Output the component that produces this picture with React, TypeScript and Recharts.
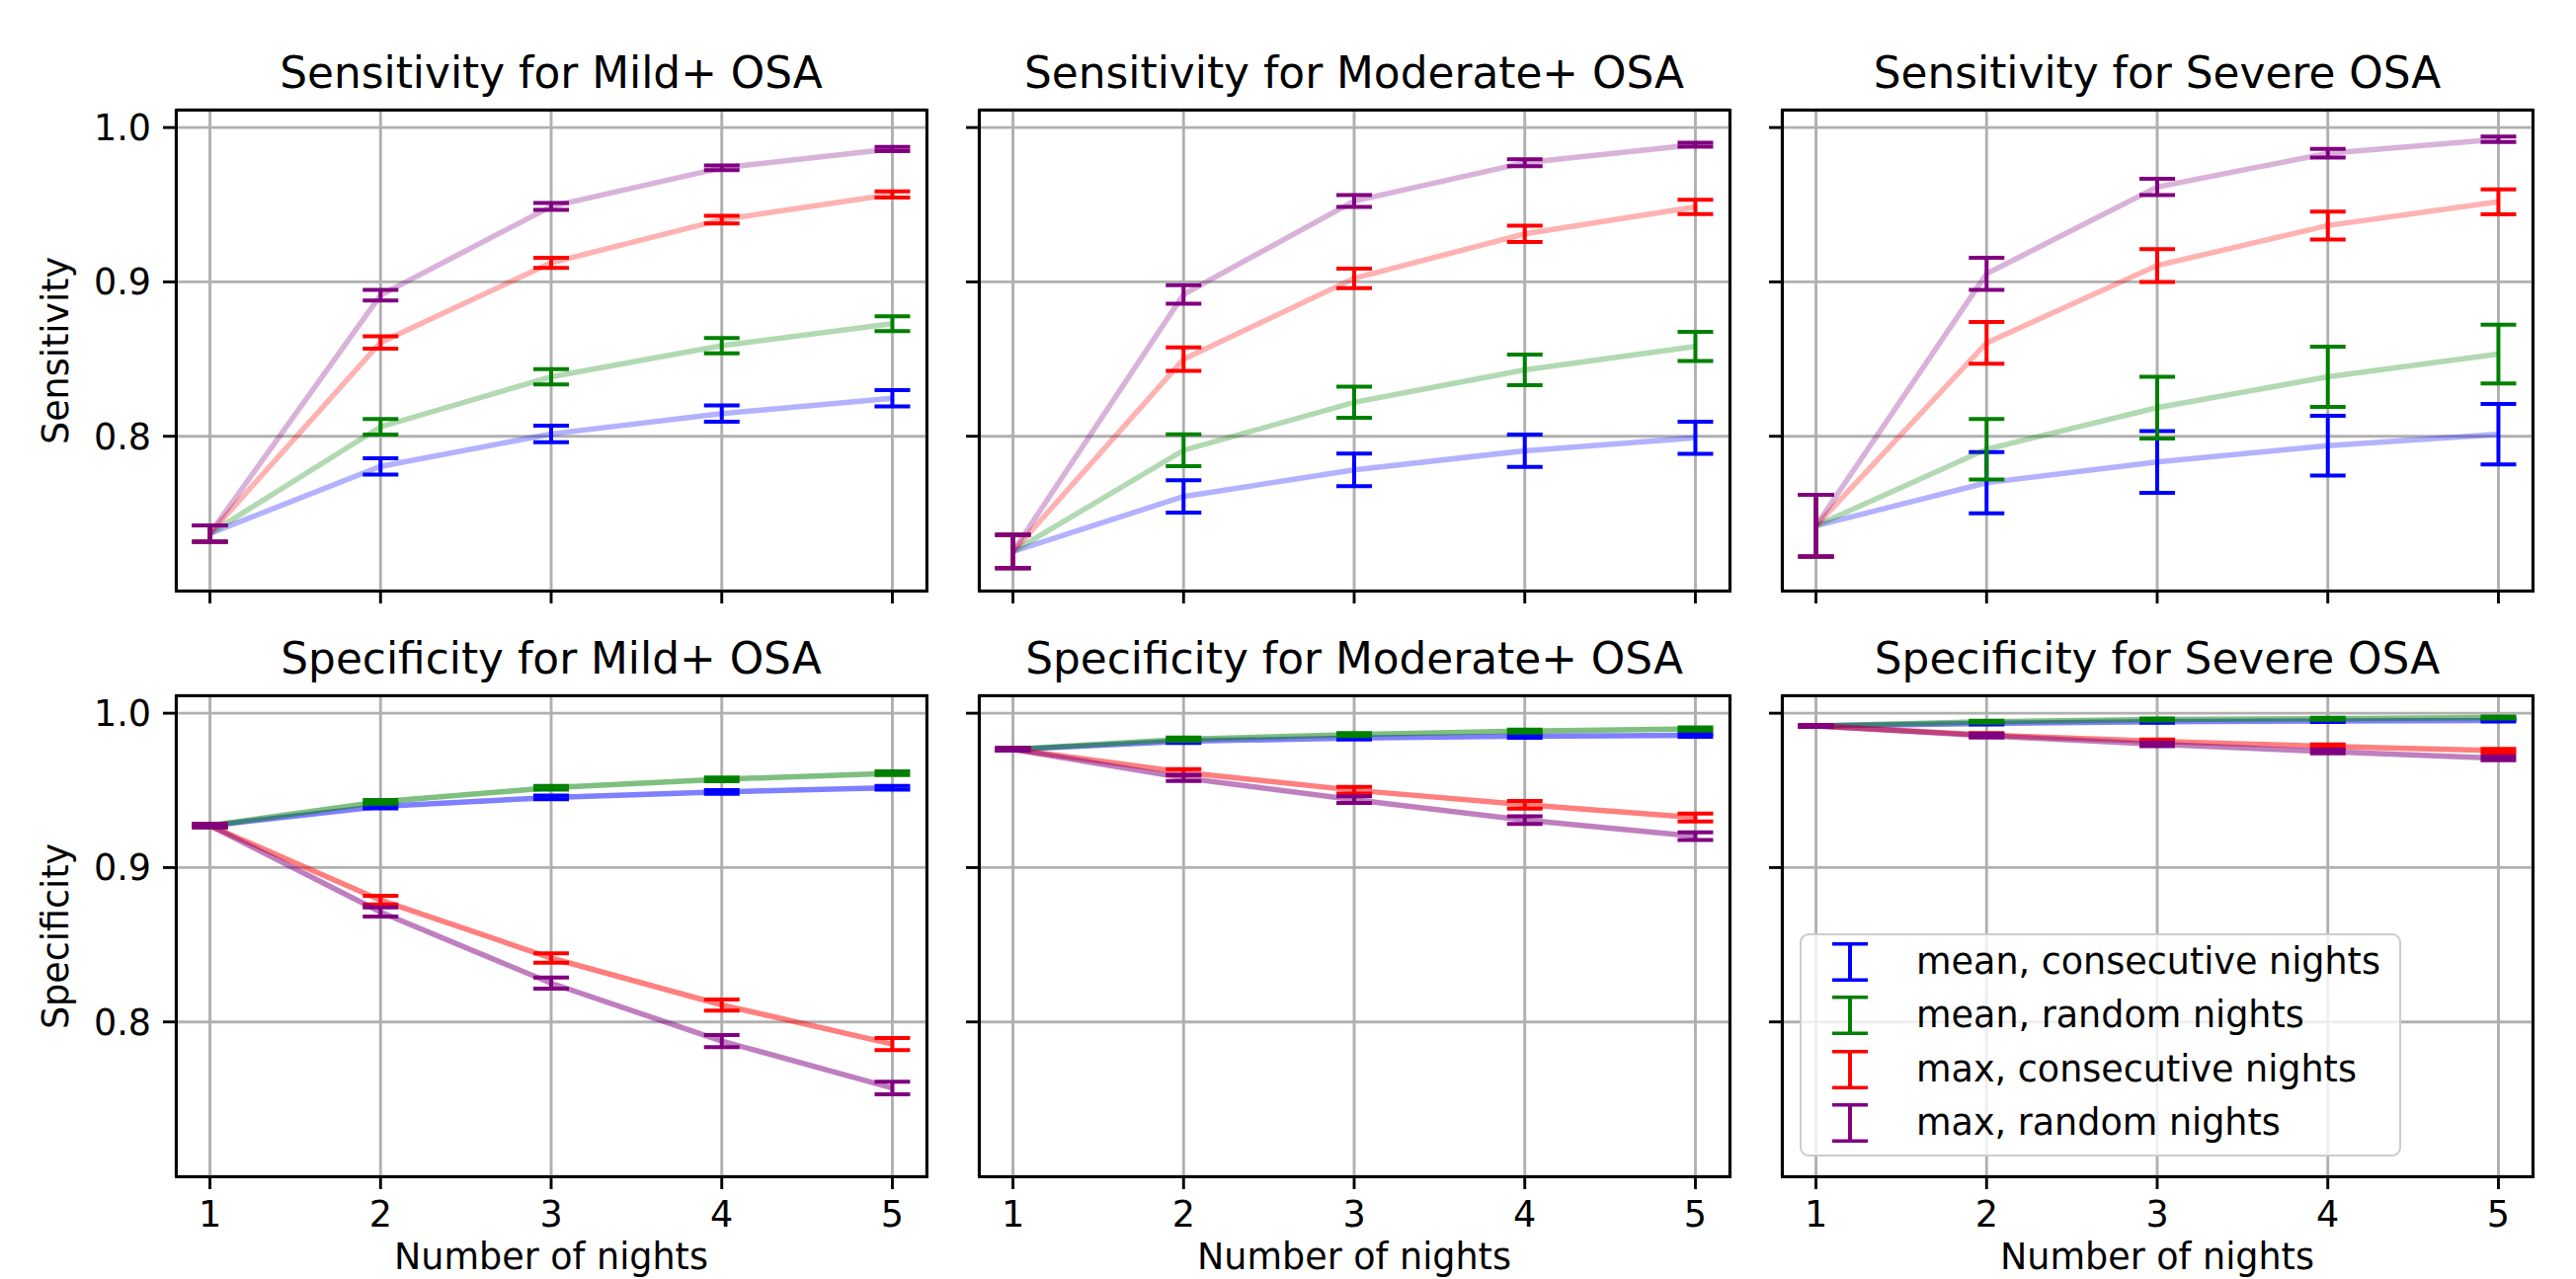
import React from "react";
import { LineChart, Line, ErrorBar, XAxis, YAxis, CartesianGrid } from "recharts";

const nights = [1, 2, 3, 4, 5];
const yTicks = [0.8, 0.9, 1.0];
const seriesNames = [
  "mean, consecutive nights",
  "mean, random nights",
  "max, consecutive nights",
  "max, random nights",
];
const seriesColors = ["#0000ff", "#008000", "#ff0000", "#800080"];

// Sensitivity, Mild+ OSA
const sensMildMeanCons = [0.737, 0.7805, 0.8015, 0.8147, 0.8246];
const sensMildMeanConsErr = [0.0053, 0.0053, 0.0053, 0.0053, 0.0053];
const sensMildMeanRand = [0.737, 0.8061, 0.8385, 0.8587, 0.8729];
const sensMildMeanRandErr = [0.0053, 0.005, 0.005, 0.005, 0.0048];
const sensMildMaxCons = [0.737, 0.8608, 0.9124, 0.9403, 0.9567];
const sensMildMaxConsErr = [0.0053, 0.004, 0.0033, 0.0025, 0.002];
const sensMildMaxRand = [0.737, 0.8914, 0.9489, 0.9739, 0.9861];
const sensMildMaxRandErr = [0.0053, 0.0035, 0.0023, 0.0015, 0.0013];

// Sensitivity, Moderate+ OSA
const sensModMeanCons = [0.7253, 0.761, 0.7782, 0.7906, 0.799];
const sensModMeanConsErr = [0.0108, 0.0105, 0.0105, 0.0105, 0.0104];
const sensModMeanRand = [0.7253, 0.7909, 0.822, 0.843, 0.8582];
const sensModMeanRandErr = [0.0108, 0.0103, 0.0101, 0.0099, 0.0094];
const sensModMaxCons = [0.7253, 0.8499, 0.9023, 0.9311, 0.9486];
const sensModMaxConsErr = [0.0108, 0.0076, 0.0063, 0.0053, 0.0046];
const sensModMaxRand = [0.7253, 0.8919, 0.9524, 0.9772, 0.9889];
const sensModMaxRandErr = [0.0108, 0.006, 0.0038, 0.0023, 0.0013];

// Sensitivity, Severe OSA
const sensSevMeanCons = [0.742, 0.7699, 0.7833, 0.7939, 0.8013];
const sensSevMeanConsErr = [0.02, 0.0199, 0.02, 0.0194, 0.0196];
const sensSevMeanRand = [0.742, 0.7916, 0.8185, 0.8385, 0.8532];
const sensSevMeanRandErr = [0.02, 0.0196, 0.02, 0.0195, 0.019];
const sensSevMaxCons = [0.742, 0.8605, 0.9106, 0.9365, 0.9519];
const sensSevMaxConsErr = [0.02, 0.0135, 0.0106, 0.0091, 0.0081];
const sensSevMaxRand = [0.742, 0.9053, 0.9615, 0.9833, 0.9924];
const sensSevMaxRandErr = [0.02, 0.0104, 0.0053, 0.0028, 0.0018];

// Specificity, Mild+ OSA
const specMildMeanCons = [0.9272, 0.9396, 0.9454, 0.949, 0.9517];
const specMildMeanConsErr = [0.001, 0.0012, 0.0012, 0.0012, 0.0012];
const specMildMeanRand = [0.9272, 0.9426, 0.9517, 0.9572, 0.9611];
const specMildMeanRandErr = [0.001, 0.0012, 0.0012, 0.0012, 0.0012];
const specMildMaxCons = [0.9272, 0.8789, 0.8414, 0.811, 0.7857];
const specMildMaxConsErr = [0.001, 0.0028, 0.003, 0.0036, 0.0039];
const specMildMaxRand = [0.9272, 0.8712, 0.8251, 0.7876, 0.7572];
const specMildMaxRandErr = [0.001, 0.003, 0.0036, 0.0039, 0.0041];

// Specificity, Moderate+ OSA
const specModMeanCons = [0.9766, 0.9818, 0.984, 0.9851, 0.9857];
const specModMeanConsErr = [0.0008, 0.001, 0.001, 0.001, 0.001];
const specModMeanRand = [0.9766, 0.9832, 0.9862, 0.9884, 0.9898];
const specModMeanRandErr = [0.0008, 0.001, 0.001, 0.001, 0.001];
const specModMaxCons = [0.9766, 0.9617, 0.9501, 0.9407, 0.9324];
const specModMaxConsErr = [0.0008, 0.002, 0.0022, 0.0025, 0.0025];
const specModMaxRand = [0.9766, 0.9581, 0.944, 0.9308, 0.9203];
const specModMaxRandErr = [0.0008, 0.002, 0.0022, 0.0025, 0.0025];

// Specificity, Severe OSA
const specSevMeanCons = [0.9917, 0.9934, 0.9945, 0.995, 0.9953];
const specSevMeanConsErr = [0.0006, 0.0006, 0.0006, 0.0006, 0.0006];
const specSevMeanRand = [0.9917, 0.9945, 0.9959, 0.9964, 0.9972];
const specSevMeanRandErr = [0.0006, 0.0006, 0.0006, 0.0006, 0.0006];
const specSevMaxCons = [0.9917, 0.9859, 0.9818, 0.9785, 0.9757];
const specSevMaxConsErr = [0.0006, 0.0012, 0.0012, 0.0012, 0.0012];
const specSevMaxRand = [0.9917, 0.9854, 0.9799, 0.9752, 0.9708];
const specSevMaxRandErr = [0.0006, 0.0012, 0.0012, 0.0012, 0.0012];

const FONT = "'DejaVu Sans', sans-serif";
const colLeft = [178, 991, 1804];
const rowTop = [111, 704];
const plotW = 760;
const plotH = 487;

type PanelDef = {
  title: string;
  row: number;
  col: number;
  values: number[][];
  errs: number[][];
};

const panels: PanelDef[] = [
  {
    title: "Sensitivity for Mild+ OSA", row: 0, col: 0,
    values: [sensMildMeanCons, sensMildMeanRand, sensMildMaxCons, sensMildMaxRand],
    errs: [sensMildMeanConsErr, sensMildMeanRandErr, sensMildMaxConsErr, sensMildMaxRandErr],
  },
  {
    title: "Sensitivity for Moderate+ OSA", row: 0, col: 1,
    values: [sensModMeanCons, sensModMeanRand, sensModMaxCons, sensModMaxRand],
    errs: [sensModMeanConsErr, sensModMeanRandErr, sensModMaxConsErr, sensModMaxRandErr],
  },
  {
    title: "Sensitivity for Severe OSA", row: 0, col: 2,
    values: [sensSevMeanCons, sensSevMeanRand, sensSevMaxCons, sensSevMaxRand],
    errs: [sensSevMeanConsErr, sensSevMeanRandErr, sensSevMaxConsErr, sensSevMaxRandErr],
  },
  {
    title: "Specificity for Mild+ OSA", row: 1, col: 0,
    values: [specMildMeanCons, specMildMeanRand, specMildMaxCons, specMildMaxRand],
    errs: [specMildMeanConsErr, specMildMeanRandErr, specMildMaxConsErr, specMildMaxRandErr],
  },
  {
    title: "Specificity for Moderate+ OSA", row: 1, col: 1,
    values: [specModMeanCons, specModMeanRand, specModMaxCons, specModMaxRand],
    errs: [specModMeanConsErr, specModMeanRandErr, specModMaxConsErr, specModMaxRandErr],
  },
  {
    title: "Specificity for Severe OSA", row: 1, col: 2,
    values: [specSevMeanCons, specSevMeanRand, specSevMaxCons, specSevMaxRand],
    errs: [specSevMeanConsErr, specSevMeanRandErr, specSevMaxConsErr, specSevMaxRandErr],
  },
];

// tick marks stay, labels are dropped (shared axes)
const noLabel = () => <g />;

function Panel({ p }: { p: PanelDef }) {
  const L = 130;
  const R = 10;
  const T = 10;
  const B = p.row === 1 ? 70 : 20;
  const left = colLeft[p.col];
  const top = rowTop[p.row];
  const alpha = p.row === 0 ? 0.3 : 0.5;

  const rows = nights.map((n, i) => {
    const r: any = { night: n };
    p.values.forEach((s, k) => {
      r["v" + k] = s[i];
      r["e" + k] = p.errs[k][i];
    });
    return r;
  });

  const tickStyle = { fill: "#000", fontSize: 36.5, fontFamily: FONT };

  return (
    <>
      <div
        style={{
          position: "absolute", left, top: top - 59, width: plotW,
          textAlign: "center", fontFamily: FONT, fontSize: 43.8, lineHeight: 1, color: "#000",
          whiteSpace: "nowrap",
        }}
      >
        {p.title}
      </div>
      <div style={{ position: "absolute", left: left - L, top: top - T }}>
        <LineChart
          width={plotW + L + R}
          height={plotH + T + B}
          data={rows}
          margin={{ top: T, right: R, left: 0, bottom: 0 }}
        >
          <CartesianGrid stroke="#b0b0b0" strokeWidth={2.9} />
          <XAxis
            dataKey="night"
            type="number"
            domain={[0.8, 5.2]}
            allowDataOverflow
            ticks={nights}
            interval={0}
            height={B}
            axisLine={false}
            tickLine={{ stroke: "#000", strokeWidth: 2.9 }}
            tickSize={13}
            tickMargin={12}
            tick={p.row === 1 ? tickStyle : noLabel}
          />
          <YAxis
            type="number"
            domain={[0.7, 1.0116]}
            allowDataOverflow
            ticks={yTicks}
            interval={0}
            width={L}
            axisLine={false}
            tickLine={{ stroke: "#000", strokeWidth: 2.9 }}
            tickSize={13}
            tickMargin={12}
            tick={p.col === 0 ? tickStyle : noLabel}
            tickFormatter={(v: number) => v.toFixed(1)}
          />
          {p.values.map((_, k) => (
            <Line
              key={k}
              type="linear"
              dataKey={"v" + k}
              stroke={seriesColors[k]}
              strokeOpacity={alpha}
              strokeWidth={5.5}
              dot={false}
              activeDot={false}
              isAnimationActive={false}
            >
              <ErrorBar
                dataKey={"e" + k}
                direction="y"
                width={18}
                stroke={seriesColors[k]}
                strokeWidth={4}
                isAnimationActive={false}
              />
            </Line>
          ))}
        </LineChart>
      </div>
      <div
        style={{
          position: "absolute", left: left - 1.5, top: top - 1.5,
          width: plotW + 3, height: plotH + 3, boxSizing: "border-box",
          border: "3px solid #000", pointerEvents: "none",
        }}
      />
      {p.col === 0 && (
        <div
          style={{
            position: "absolute", left: 57, top: top + plotH / 2, width: 400,
            transform: "translate(-50%, -50%) rotate(-90deg)",
            textAlign: "center", fontFamily: FONT, fontSize: 36.5, lineHeight: "36.5px", color: "#000",
          }}
        >
          {p.row === 0 ? "Sensitivity" : "Specificity"}
        </div>
      )}
      {p.row === 1 && (
        <div
          style={{
            position: "absolute", left, top: 1255, width: plotW,
            textAlign: "center", fontFamily: FONT, fontSize: 36.5, lineHeight: "36.5px", color: "#000",
            whiteSpace: "nowrap",
          }}
        >
          Number of nights
        </div>
      )}
    </>
  );
}

function LegendBox() {
  const rowsY = [30, 84, 139, 193];
  return (
    <div
      style={{
        position: "absolute", left: 1822, top: 945, width: 609, height: 226,
        boxSizing: "border-box", border: "2.9px solid #cccccc", borderRadius: 9,
        background: "rgba(255,255,255,0.8)", fontFamily: FONT,
      }}
    >
      {seriesNames.map((name, k) => (
        <React.Fragment key={name}>
          <svg
            width={40}
            height={40}
            style={{ position: "absolute", left: 52 - 20 - 3, top: rowsY[k] - 20 - 3 }}
          >
            <line x1={20} y1={1.5} x2={20} y2={38.5} stroke={seriesColors[k]} strokeWidth={4} />
            <line x1={2} y1={1.5} x2={38} y2={1.5} stroke={seriesColors[k]} strokeWidth={4} />
            <line x1={2} y1={38.5} x2={38} y2={38.5} stroke={seriesColors[k]} strokeWidth={4} />
          </svg>
          <div
            style={{
              position: "absolute", left: 116, top: rowsY[k] - 3 - 18.25,
              fontSize: 36.5, lineHeight: "36.5px", color: "#000", whiteSpace: "nowrap",
            }}
          >
            {name}
          </div>
        </React.Fragment>
      ))}
    </div>
  );
}

export default function App() {
  return (
    <div
      style={{
        position: "absolute", left: 0, top: 0, width: 2608, height: 1295,
        background: "#fff", overflow: "hidden",
      }}
    >
      {panels.map((p) => (
        <Panel key={p.title} p={p} />
      ))}
      <LegendBox />
    </div>
  );
}
